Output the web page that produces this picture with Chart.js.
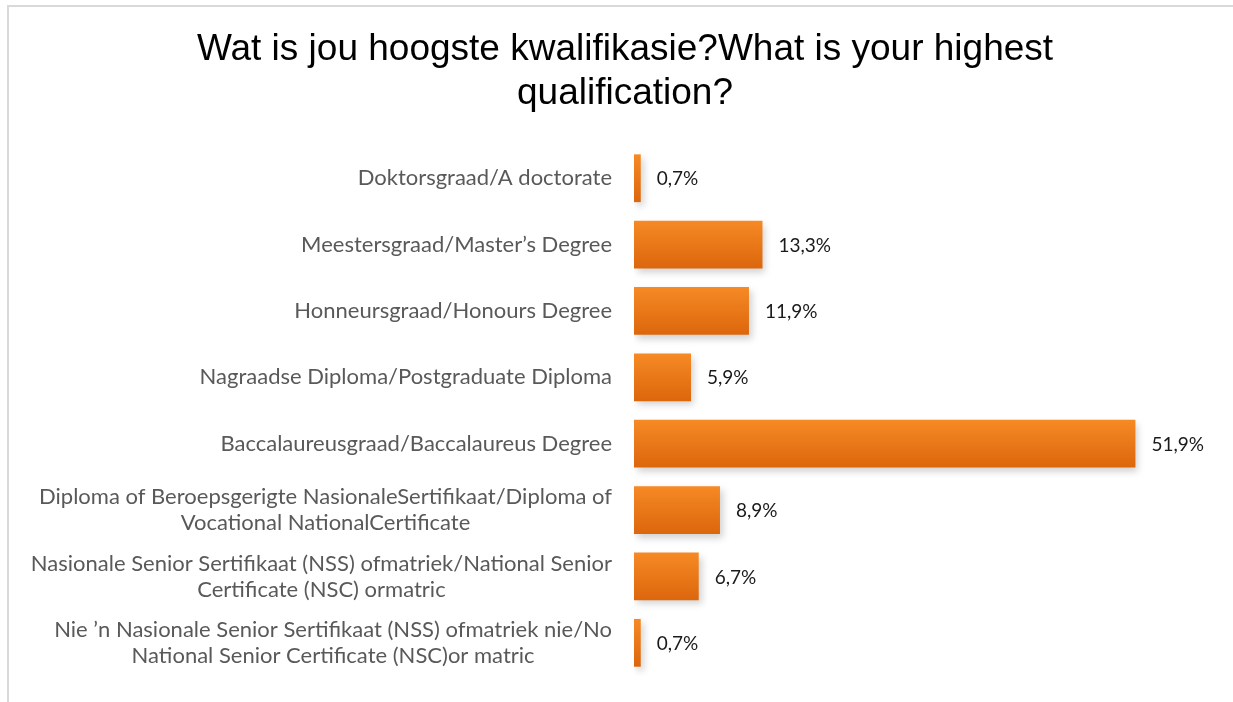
<!DOCTYPE html>
<html>
<head>
<meta charset="utf-8">
<script src="https://cdn.jsdelivr.net/npm/chart.js@4/dist/chart.umd.min.js"></script>
<style>
    html, body { margin: 0; padding: 0; background: #fff; }
    #wrap { position: relative; width: 1233px; height: 702px; }
    #frame {
        position: absolute; left: 7px; top: 5px; width: 1240px; height: 710px;
        border-top: 2px solid #d9d9d9; border-left: 2px solid #d9d9d9;
        pointer-events: none;
    }
</style>
</head>
<body>
<div id="wrap">
    <canvas id="graficoQualificacao"></canvas>
    <div id="frame"></div>
</div>
<script>
// Dados do gráfico
const categorias = [
    'Doktorsgraad/A doctorate',
    'Meestersgraad/Master\u2019s Degree',
    'Honneursgraad/Honours Degree',
    'Nagraadse Diploma/Postgraduate Diploma',
    'Baccalaureusgraad/Baccalaureus Degree',
    ['Diploma of Beroepsgerigte NasionaleSertifikaat/Diploma of', 'Vocational NationalCertificate'],
    ['Nasionale Senior Sertifikaat (NSS) ofmatriek/National Senior', 'Certificate (NSC) ormatric'],
    ['Nie \u2019n Nasionale Senior Sertifikaat (NSS) ofmatriek nie/No', 'National Senior Certificate (NSC)or matric']
];
const percentagens = [0.7, 13.3, 11.9, 5.9, 51.9, 8.9, 6.7, 0.7];
const titulo = ['Wat is jou hoogste kwalifikasie?What is your highest', 'qualification?'];

// gradiente laranja por barra (vertical)
function corBarra(ctx) {
    const chart = ctx.chart;
    const y = chart.scales.y;
    if (!y || ctx.dataIndex === undefined) return '#ec7a1c';
    const centro = y.getPixelForValue(ctx.dataIndex);
    const meia = y.height / categorias.length * 0.72 / 2;
    if (!isFinite(centro) || !isFinite(meia) || meia <= 0) return '#ec7a1c';
    const g = chart.ctx.createLinearGradient(0, centro - meia, 0, centro + meia);
    g.addColorStop(0, '#f68a25');
    g.addColorStop(1, '#dc660c');
    return g;
}

// sombra, rótulos de valor e rótulos das categorias (linhas centradas)
const pluginRotulos = {
    id: 'rotulos',
    beforeDatasetsDraw(chart) {
        const c = chart.ctx;
        c.save();
        c.shadowColor = 'rgba(0,0,0,0.18)';
        c.shadowBlur = 7;
        c.shadowOffsetX = 3;
        c.shadowOffsetY = 4;
    },
    afterDatasetsDraw(chart) {
        const c = chart.ctx;
        c.restore();
        const meta = chart.getDatasetMeta(0);
        c.save();
        c.font = '19px Lato, "Open Sans", sans-serif';
        c.fillStyle = '#1a1a1a';
        c.textAlign = 'left';
        c.textBaseline = 'middle';
        meta.data.forEach((bar, i) => {
            c.fillText(percentagens[i].toFixed(1).replace('.', ',') + '%', bar.x + 16, bar.y + 1);
        });

        // rótulos do eixo y
        const y = chart.scales.y;
        const direita = y.right - 22;
        const alturaLinha = 26;
        c.font = '22px Lato, "Open Sans", sans-serif';
        c.fillStyle = '#595959';
        c.textAlign = 'center';
        categorias.forEach((cat, i) => {
            const linhas = Array.isArray(cat) ? cat : [cat];
            const largura = Math.max(...linhas.map(l => c.measureText(l).width));
            const cx = direita - largura / 2;
            const cy = y.getPixelForValue(i);
            const y0 = cy - (linhas.length - 1) * alturaLinha / 2;
            linhas.forEach((l, k) => c.fillText(l, cx, y0 + k * alturaLinha));
        });
        c.restore();
    }
};

const ctx = document.getElementById('graficoQualificacao').getContext('2d');
const grafico = new Chart(ctx, {
    type: 'bar',
    data: {
        labels: categorias,
        datasets: [{
            data: percentagens,
            backgroundColor: corBarra,
            borderWidth: 0,
            barPercentage: 0.72,
            categoryPercentage: 1
        }]
    },
    options: {
        indexAxis: 'y',
        responsive: true,
        maintainAspectRatio: false,
        animation: false,
        layout: {
            padding: { left: 17, right: 0, top: 0, bottom: 26 }
        },
        scales: {
            x: {
                display: false,
                min: 0,
                max: 62
            },
            y: {
                grid: { display: false, drawTicks: false },
                border: { display: false },
                afterFit(scale) { scale.width = 617; },
                ticks: { display: false }
            }
        },
        plugins: {
            legend: { display: false },
            tooltip: { enabled: false },
            title: {
                display: true,
                text: titulo,
                color: '#000',
                font: { family: '"Liberation Sans", Arial, sans-serif', size: 37, weight: 'normal', lineHeight: 1.19 },
                padding: { top: 28, bottom: 29 }
            }
        }
    },
    plugins: [pluginRotulos]
});
</script>
</body>
</html>
